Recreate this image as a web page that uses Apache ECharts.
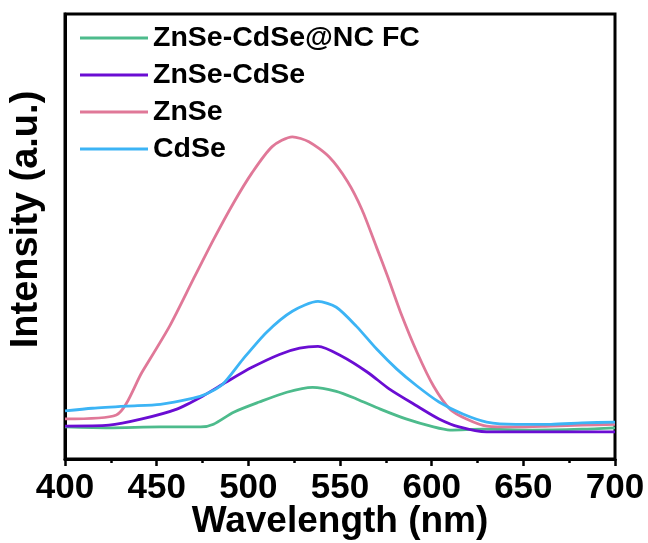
<!DOCTYPE html>
<html>
<head>
<meta charset="utf-8">
<script src="https://cdn.jsdelivr.net/npm/echarts@6/dist/echarts.min.js"></script>
<style>
  html, body { margin: 0; padding: 0; background: #fff; }
  #mycharts { width: 648px; height: 543px; }
</style>
</head>
<body>
<div id="mycharts"></div>
<script>
// wavelength (nm) / intensity (a.u.) pairs
const nameList = ['ZnSe-CdSe@NC FC', 'ZnSe-CdSe', 'ZnSe', 'CdSe']
const colorList = ['#4dbb8c', '#6a0dd3', '#e07898', '#3cb4f5']

const fcData = [
  [400, 7.2], [424, 7.0], [452, 7.2], [474, 7.2], [481, 7.8], [492, 10.5],
  [506, 12.8], [521, 15.0], [535, 16.1], [548, 15.2], [559, 13.5], [572, 11.2],
  [586, 9.0], [601, 7.2], [610, 6.5], [628, 6.7], [655, 6.5], [682, 6.7], [700, 7.0]
]
const znCdData = [
  [400, 7.4], [424, 7.6], [442, 9.0], [461, 11.2], [475, 14.1], [488, 17.3],
  [502, 20.6], [517, 23.5], [528, 24.9], [538, 25.3], [551, 23.1], [565, 19.5],
  [577, 15.7], [592, 11.9], [604, 9.0], [615, 7.2], [630, 6.1], [655, 6.1],
  [682, 6.1], [700, 6.1]
]
const znData = [
  [400, 9.0], [428, 9.9], [442, 19.5], [457, 29.8], [470, 40.4], [481, 49.3],
  [492, 57.6], [502, 64.3], [513, 70.2], [524, 72.4], [533, 71.3], [544, 67.9],
  [554, 62.4], [562, 56.0], [570, 47.5], [576, 41.0], [583, 33.0], [592, 24.0],
  [601, 16.4], [610, 11.2], [619, 9.0], [630, 7.4], [646, 7.2], [665, 7.4],
  [682, 7.6], [700, 7.8]
]
const cdData = [
  [400, 10.8], [415, 11.4], [434, 11.9], [452, 12.3], [470, 13.7], [477, 14.6],
  [486, 16.8], [497, 22.4], [510, 28.5], [524, 33.2], [538, 35.4], [548, 34.1],
  [559, 29.8], [570, 24.7], [581, 20.2], [592, 16.4], [604, 12.8], [617, 10.1],
  [630, 8.3], [646, 7.8], [665, 7.8], [682, 8.1], [700, 8.3]
]
const dataList = [fcData, znCdData, znData, cdData]

let myCharts = echarts.init(document.getElementById('mycharts'), null, { renderer: 'canvas' })

let series = nameList.map((name, i) => ({
  name: name,
  type: 'line',
  symbol: 'none',
  smooth: 0.25,
  lineStyle: { color: colorList[i], width: 2.8 },
  itemStyle: { color: colorList[i] },
  data: dataList[i]
}))

let options = {
  animation: false,
  textStyle: { fontFamily: 'Liberation Sans, Arial, sans-serif' },
  grid: {
    left: 65, right: 33, top: 14, bottom: 84,
    outerBoundsMode: 'none',
    containLabel: false,
    show: true,
    borderColor: '#000',
    borderWidth: 3
  },
  legend: {
    orient: 'vertical',
    left: 75,
    top: 18,
    icon: 'rect',
    itemWidth: 68,
    itemHeight: 3,
    itemGap: 7,
    data: nameList,
    textStyle: {
      fontSize: 28.5,
      fontWeight: 'bold',
      color: '#000',
      lineHeight: 30
    }
  },
  xAxis: {
    type: 'value',
    min: 400,
    max: 700,
    interval: 50,
    name: 'Wavelength (nm)',
    nameLocation: 'middle',
    nameMoveOverlap: false,
    nameGap: 44,
    nameTextStyle: { fontSize: 37, fontWeight: 'bold', color: '#000' },
    axisLine: { lineStyle: { color: '#000', width: 3 } },
    axisTick: { show: true, inside: false, length: 7, lineStyle: { color: '#000', width: 2.5 } },
    minorTick: { show: true, splitNumber: 2, length: 4, lineStyle: { color: '#000', width: 2.5 } },
    axisLabel: { fontSize: 35, fontWeight: 'bold', color: '#000', margin: 12 },
    splitLine: { show: false }
  },
  yAxis: {
    type: 'value',
    min: 0,
    max: 100,
    name: 'Intensity (a.u.)',
    nameLocation: 'middle',
    nameMoveOverlap: false,
    nameGap: 19,
    nameTextStyle: { fontSize: 38, fontWeight: 'bold', color: '#000', padding: [0, 0, 0, 34] },
    axisLine: { show: true, lineStyle: { color: '#000', width: 3 } },
    axisTick: { show: false },
    axisLabel: { show: false },
    splitLine: { show: false }
  },
  series: series
}
myCharts.setOption(options)
</script>
</body>
</html>
